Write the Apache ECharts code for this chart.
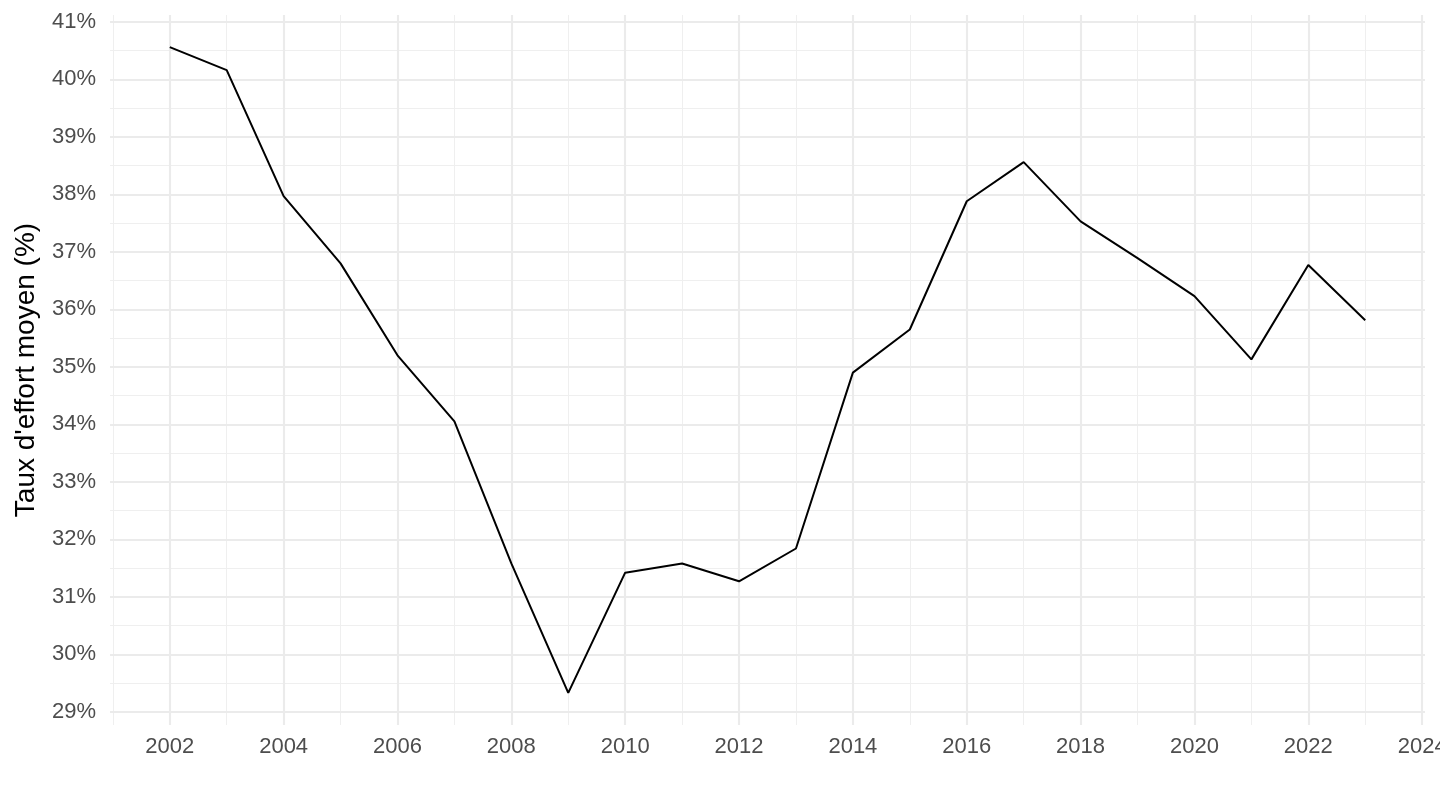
<!DOCTYPE html>
<html>
<head>
<meta charset="utf-8">
<script src="https://cdn.jsdelivr.net/npm/echarts@6/dist/echarts.min.js"></script>
<style>
html,body{margin:0;padding:0;background:#fff;}
#chart{width:1440px;height:810px;}
</style>
</head>
<body>
<div id="chart"></div>
<script>
const years = [2002,2003,2004,2005,2006,2007,2008,2009,2010,2011,2012,2013,2014,2015,2016,2017,2018,2019,2020,2021,2022,2023];
const tauxEffort = [40.56,40.16,37.97,36.80,35.20,34.05,31.58,29.33,31.42,31.58,31.27,31.84,34.90,35.65,37.88,38.56,37.53,36.89,36.23,35.13,36.77,35.81];
const xMajorTicks = [2002,2004,2006,2008,2010,2012,2014,2016,2018,2020,2022,2024];
const xMinorTicks = [2001,2003,2005,2007,2009,2011,2013,2015,2017,2019,2021,2023];
const yMajorTicks = [29,30,31,32,33,34,35,36,37,38,39,40,41];
const yMinorTicks = [29.5,30.5,31.5,32.5,33.5,34.5,35.5,36.5,37.5,38.5,39.5,40.5];
const yTitle = "Taux d'effort moyen (%)";

const FONT = "'Liberation Sans', Arial, Helvetica, sans-serif";
const minorStyle = {color:'#efefef', width:1.1, type:'solid'};
const majorStyle = {color:'#ebebeb', width:2.1, type:'solid'};

function gridSeries(){
  const data = [];
  xMinorTicks.forEach(v=>data.push({xAxis:v, lineStyle:minorStyle}));
  yMinorTicks.forEach(v=>data.push({yAxis:v, lineStyle:minorStyle}));
  xMajorTicks.forEach(v=>data.push({xAxis:v, lineStyle:majorStyle}));
  yMajorTicks.forEach(v=>data.push({yAxis:v, lineStyle:majorStyle}));
  return {
    type:'line', data:[], silent:true, z:1,
    markLine:{silent:true, z:1, symbol:['none','none'], label:{show:false}, animation:false, data:data}
  };
}

const chart = echarts.init(document.getElementById('chart'), null, {renderer:'canvas'});
chart.setOption({
  animation:false,
  backgroundColor:'#ffffff',
  grid:{left:110, right:15, top:15, bottom:85, containLabel:false, outerBoundsMode:'none'},
  xAxis:{
    type:'value', min:2000.95, max:2024.05,
    axisLine:{show:false}, axisTick:{show:false}, splitLine:{show:false},
    axisLabel:{customValues:xMajorTicks, color:'#4d4d4d', fontSize:22, fontFamily:FONT, margin:11, formatter:v=>String(v), showMinLabel:true, showMaxLabel:true, hideOverlap:false}
  },
  yAxis:{
    type:'value', min:28.77, max:41.12,
    name:yTitle, nameLocation:'middle', nameGap:70, nameRotate:90,
    nameTextStyle:{color:'#000000', fontSize:28, fontFamily:FONT},
    axisLine:{show:false}, axisTick:{show:false}, splitLine:{show:false},
    axisLabel:{customValues:yMajorTicks, color:'#4d4d4d', fontSize:22, fontFamily:FONT, margin:14, formatter:v=>v+'%'}
  },
  series:[
    gridSeries(),
    {
      type:'line', z:3, data:years.map((y,i)=>[y,tauxEffort[i]]),
      symbol:'none', lineStyle:{color:'#000000', width:2}, itemStyle:{color:'#000'}
    }
  ]
});
</script>
</body>
</html>
